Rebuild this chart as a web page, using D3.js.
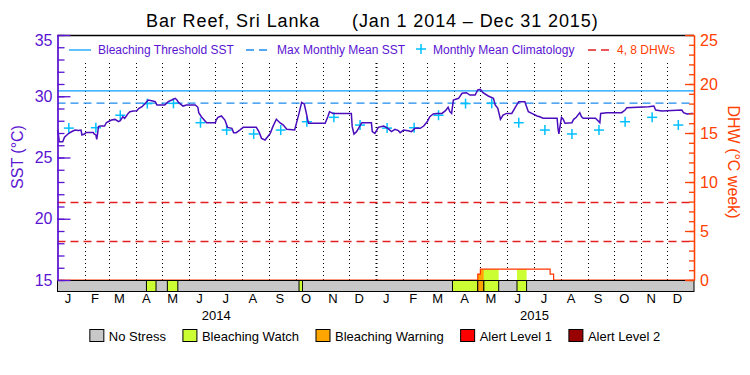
<!DOCTYPE html>
<html>
<head>
<meta charset="UTF-8">
<title>Bar Reef, Sri Lanka</title>
<script src="https://d3js.org/d3.v7.min.js"></script>
<style>
body { margin: 0; background: #fff; }
text { font-family: "Liberation Sans", Arial, sans-serif; }
</style>
</head>
<body>
<div id="vis"></div>
<script>
// all "day" values are days since 1 Jan 2014
var sstDay = [0,1,2,6,8,12,16,20,24,27,28,31,33,37,41,42,44,45,46,47,49,54,56,58,62,66,70,72,75,77,79,81,83,87,91,93,97,100,104,108,112,114,123,127,131,135,137,139,144,148,152,158,161,162,165,171,181,182,
  184,188,192,195,200,202,205,209,213,228,231,234,238,241,244,247,251,255,259,263,272,274,277,280,283,285,287,288,307,310,312,316,337,338,340,343,349,360,361,364,
  368,374,379,383,387,391,393,397,402,406,410,416,420,424,427,431,435,441,445,448,450,452,454,460,464,469,473,479,482,485,488,494,500,502,505,508,511,515,521,525,529,536,538,540,544,550,
  553,557,573,574,575,576,578,580,582,590,592,595,599,601,603,617,621,622,623,630,647,651,653,678,684,686,693,716,718,722,727,729];
var sstValue = [27.24,26.9,26.29,26.29,26.65,26.92,27.1,27.24,27.2,27.24,26.84,26.92,27.05,27.05,27.05,26.92,26.84,26.48,26.97,27.52,27.57,27.57,27.84,27.92,28.06,28.11,27.92,28.0,28.33,28.2,28.39,28.6,28.74,28.8,28.82,29.0,29.15,29.37,29.69,29.64,29.56,29.29,29.29,29.56,29.69,29.83,29.69,29.48,29.2,29.29,29.29,29.29,29.1,28.66,28.33,27.84,27.84,28.06,
  28.28,28.39,28.06,27.46,27.38,27.03,27.03,27.24,27.46,27.46,27.11,26.56,26.43,26.7,26.97,27.52,28.12,27.84,27.65,27.3,27.24,27.79,28.6,29.5,29.37,28.74,28.06,27.79,27.79,28.33,28.74,28.6,28.6,27.52,26.92,27.11,27.84,27.84,27.11,26.97,
  27.46,27.57,27.38,27.11,27.3,27.19,27.03,27.24,27.19,27.11,27.38,27.38,27.57,27.92,28.33,28.55,28.6,28.6,28.82,29.1,28.74,28.6,29.69,29.83,30.24,30.29,30.1,30.1,30.51,30.56,30.29,30.02,29.83,29.29,29.01,28.12,28.47,28.6,28.6,29.1,29.56,29.56,29.15,28.74,28.6,28.39,
  28.33,28.2,28.2,27.38,26.92,27.38,28.28,28.12,27.79,27.84,28.12,28.28,28.66,28.33,28.2,28.2,27.92,27.84,28.6,28.66,28.66,28.88,29.07,29.15,29.2,28.88,28.8,28.88,28.66,28.55,28.6,28.6];

// monthly mean climatology (Jan..Dec), repeated each year
var climValue = [27.4,27.43,28.45,29.4,29.42,27.84,27.24,26.92,27.24,27.92,28.28,27.65];
var years = [2014, 2015];
var monthLabels = ["J","F","M","A","M","J","J","A","S","O","N","D"];

var mmm = 29.44;
var threshold = 30.44;
var dhwLevels = [4, 8];

var dhwDay = [0, 482, 485, 565, 569, 730];
var dhwValue = [0, 0.6, 1.1, 0.6, 0, 0];

var stressStart = [102, 126, 277, 453, 482, 489, 527];
var stressEnd   = [113, 138, 281, 482, 489, 506, 538];
var stressLevel = [1, 1, 1, 1, 2, 1, 1];
var stressNames  = ["No Stress", "Bleaching Watch", "Bleaching Warning", "Alert Level 1", "Alert Level 2"];
var stressColors = ["#c8c8c8", "#ccff33", "#ffa500", "#ff0000", "#990000"];

var sstMajor = [15, 20, 25, 30, 35];
var dhwMajor = [0, 5, 10, 15, 20, 25];

(function() {
var purple = "#5a14d2", linePurple = "#4a0cbc", orange = "#ff4000";

var width = 750, height = 375;
var pL = 57.5, pR = 694, pT = 35, pB = 280, barH = 11;

var svg = d3.select("#vis").append("svg")
  .attr("width", width).attr("height", height);

var t0 = Date.UTC(2014, 0, 1);
function dayDate(d) { return new Date(t0 + d * 864e5); }

var x = d3.scaleUtc().domain([new Date(t0), new Date(Date.UTC(2016, 0, 1))]).range([pL, pR]);
var y = d3.scaleLinear().domain([15, 35]).range([pB, pT]);
var yd = d3.scaleLinear().domain([0, 25]).range([pB, pT]);

// title
svg.append("text").attr("x", 146).attr("y", 27).style("font-size", "18px").style("letter-spacing", "0.9px").text("Bar Reef, Sri Lanka");
svg.append("text").attr("x", 352).attr("y", 27).style("font-size", "18px").style("letter-spacing", "0.9px").text("(Jan 1 2014 \u2013 Dec 31 2015)");

// month boundary dotted lines
var bounds = d3.utcMonth.range(new Date(Date.UTC(2014, 1, 1)), new Date(Date.UTC(2016, 0, 1)));
svg.append("g").selectAll("line").data(bounds).enter().append("line")
  .attr("x1", function(d) { return Math.round(x(d)) + 0.5; })
  .attr("x2", function(d) { return Math.round(x(d)) + 0.5; })
  .attr("y1", 63).attr("y2", pB)
  .attr("stroke", "#000")
  .attr("stroke-width", function(d) { return d.getUTCMonth() == 0 ? 2 : 1; })
  .attr("stroke-dasharray", "1,3");

// DHW reference lines
svg.append("g").selectAll("line").data(dhwLevels).enter().append("line")
  .attr("x1", pL).attr("x2", pR)
  .attr("y1", function(d) { return Math.round(yd(d)) + 0.5; })
  .attr("y2", function(d) { return Math.round(yd(d)) + 0.5; })
  .attr("stroke", "#e52020").attr("stroke-width", 1.3).attr("stroke-dasharray", "8,5");

// MMM and threshold
svg.append("line").attr("x1", pL).attr("x2", pR)
  .attr("y1", y(mmm)).attr("y2", y(mmm))
  .attr("stroke", "#1c8cf0").attr("stroke-width", 1.3).attr("stroke-dasharray", "8,5");
svg.append("line").attr("x1", pL).attr("x2", pR)
  .attr("y1", y(threshold)).attr("y2", y(threshold))
  .attr("stroke", "#0aa0ff").attr("stroke-width", 1.3);

// DHW fill by stress level, then DHW step line
function dhwAt(d) {
  var v = 0;
  for (var i = 0; i < dhwDay.length; i++) if (dhwDay[i] <= d) v = dhwValue[i];
  return v;
}
stressStart.forEach(function(s, i) {
  var pts = [];
  for (var d = s; d <= stressEnd[i]; d++) pts.push(d);
  var area = d3.area().curve(d3.curveStepAfter)
    .x(function(d) { return x(dayDate(d)); })
    .y0(pB).y1(function(d) { return yd(dhwAt(d)); });
  svg.append("path").datum(pts).attr("d", area)
    .attr("fill", stressColors[stressLevel[i]]).attr("stroke", "none");
});
var dhwLine = d3.line().curve(d3.curveStepAfter)
  .x(function(d, i) { return x(dayDate(dhwDay[i])); })
  .y(function(d) { return yd(d); });
svg.append("path").datum(dhwValue).attr("d", dhwLine)
  .attr("fill", "none").attr("stroke", "#ff3300").attr("stroke-width", 1.2);

// climatology crosses
var clim = [];
years.forEach(function(yr) {
  climValue.forEach(function(v, m) { clim.push({date: new Date(Date.UTC(yr, m, 14)), v: v}); });
});
var cross = svg.append("g").selectAll("g").data(clim).enter().append("g")
  .attr("transform", function(d) { return "translate(" + x(d.date) + "," + y(d.v) + ")"; });
cross.append("line").attr("x1", -5).attr("x2", 5).attr("stroke", "#00c0ff").attr("stroke-width", 1.5);
cross.append("line").attr("y1", -5).attr("y2", 5).attr("stroke", "#00c0ff").attr("stroke-width", 1.5);

// SST line
var sstLine = d3.line()
  .x(function(d, i) { return x(dayDate(sstDay[i])); })
  .y(function(d) { return y(d); });
svg.append("path").datum(sstValue).attr("d", sstLine)
  .attr("fill", "none").attr("stroke", linePurple).attr("stroke-width", 1.5);

// stress bar
svg.append("rect").attr("x", pL).attr("y", pB + 0.5).attr("width", pR - pL).attr("height", barH)
  .attr("fill", stressColors[0]).attr("stroke", "#000").attr("stroke-width", 1);
svg.append("g").selectAll("rect").data(stressStart).enter().append("rect")
  .attr("x", function(d) { return x(dayDate(d)); })
  .attr("y", pB + 0.5)
  .attr("width", function(d, i) { return x(dayDate(stressEnd[i])) - x(dayDate(d)); })
  .attr("height", barH)
  .attr("fill", function(d, i) { return stressColors[stressLevel[i]]; })
  .attr("stroke", "#000").attr("stroke-width", 1);

// top frame
svg.append("line").attr("x1", pL).attr("x2", pR).attr("y1", pT + 0.5).attr("y2", pT + 0.5)
  .attr("stroke", "#000").attr("stroke-width", 1.3);

// left axis
var gl = svg.append("g").attr("transform", "translate(" + pL + ",0)");
gl.append("g").call(d3.axisLeft(y).tickValues(d3.range(15, 36)).tickSize(-7).tickSizeOuter(0).tickFormat(""));
gl.append("g").call(d3.axisLeft(y).tickValues(sstMajor).tickSize(-13).tickSizeOuter(0).tickPadding(5));
gl.selectAll("path, line").attr("stroke", purple).attr("stroke-width", 1.3);
gl.selectAll("text").attr("fill", purple).style("font-size", "16px").style("font-family", "Liberation Sans, Arial, sans-serif");
gl.selectAll(".tick text").filter(function(d) { return d == 35; }).attr("dy", "0.65em");
svg.append("text").attr("transform", "translate(23,157) rotate(-90)")
  .attr("text-anchor", "middle").attr("fill", purple).style("font-size", "16px").text("SST (\u00b0C)");

// right axis
var gr = svg.append("g").attr("transform", "translate(" + pR + ",0)");
gr.append("g").call(d3.axisRight(yd).tickValues(d3.range(0, 26)).tickSize(-5).tickSizeOuter(0).tickFormat(""));
gr.append("g").call(d3.axisRight(yd).tickValues(dhwMajor).tickSize(-9).tickSizeOuter(0).tickPadding(6));
gr.selectAll("path, line").attr("stroke", orange).attr("stroke-width", 1.3);
gr.selectAll("text").attr("fill", orange).style("font-size", "16px").style("font-family", "Liberation Sans, Arial, sans-serif");
gr.selectAll(".tick text").filter(function(d) { return d == 25; }).attr("dy", "0.65em");
svg.append("text").attr("transform", "translate(728,162) rotate(90)")
  .attr("text-anchor", "middle").attr("fill", orange).style("font-size", "16px").text("DHW (\u00b0C week)");

// month and year labels
var months = [];
years.forEach(function(yr) {
  monthLabels.forEach(function(l, m) { months.push({date: new Date(Date.UTC(yr, m, 13)), l: l}); });
});
svg.append("g").selectAll("text").data(months).enter().append("text")
  .attr("x", function(d) { return x(d.date); }).attr("y", 303)
  .attr("text-anchor", "middle").style("font-size", "13px").text(function(d) { return d.l; });
svg.append("g").selectAll("text").data(years).enter().append("text")
  .attr("x", function(d) { return x(new Date(Date.UTC(d, 6, 2))); }).attr("y", 320)
  .attr("text-anchor", "middle").style("font-size", "13px").text(function(d) { return d; });

// legend inside plot
var lg = svg.append("g").style("font-size", "12px");
lg.append("line").attr("x1", 69).attr("x2", 91).attr("y1", 50).attr("y2", 50).attr("stroke", "#0aa0ff").attr("stroke-width", 1.3);
lg.append("text").attr("x", 98).attr("y", 54).attr("fill", purple).text("Bleaching Threshold SST");
lg.append("line").attr("x1", 246).attr("x2", 271).attr("y1", 50).attr("y2", 50).attr("stroke", "#1c8cf0").attr("stroke-width", 1.3).attr("stroke-dasharray", "8,5");
lg.append("text").attr("x", 277).attr("y", 54).attr("fill", purple).text("Max Monthly Mean SST");
lg.append("line").attr("x1", 416).attr("x2", 426).attr("y1", 49).attr("y2", 49).attr("stroke", "#00c0ff").attr("stroke-width", 1.5);
lg.append("line").attr("x1", 421).attr("x2", 421).attr("y1", 44).attr("y2", 54).attr("stroke", "#00c0ff").attr("stroke-width", 1.5);
lg.append("text").attr("x", 433).attr("y", 54).attr("fill", purple).text("Monthly Mean Climatology");
lg.append("line").attr("x1", 588).attr("x2", 613).attr("y1", 50).attr("y2", 50).attr("stroke", "#e52020").attr("stroke-width", 1.3).attr("stroke-dasharray", "8,5");
lg.append("text").attr("x", 617).attr("y", 54).attr("fill", orange).text("4, 8 DHWs");

// stress legend
var sl = svg.append("g").style("font-size", "13px");
var items = sl.selectAll("g").data(stressNames).enter().append("g");
items.append("rect").attr("y", 329.5).attr("width", 14).attr("height", 12)
  .attr("fill", function(d, i) { return stressColors[i]; }).attr("stroke", "#000").attr("stroke-width", 1);
items.append("text").attr("x", 19).attr("y", 341).text(function(d) { return d; });
var pos = 0, starts = [];
items.each(function() {
  starts.push(pos);
  pos += 19 + d3.select(this).select("text").node().getComputedTextLength() + 17;
});
pos -= 17;
var x0 = 375 - pos / 2;
items.attr("transform", function(d, i) { return "translate(" + (x0 + starts[i]) + ",0)"; });
})();
</script>
</body>
</html>
